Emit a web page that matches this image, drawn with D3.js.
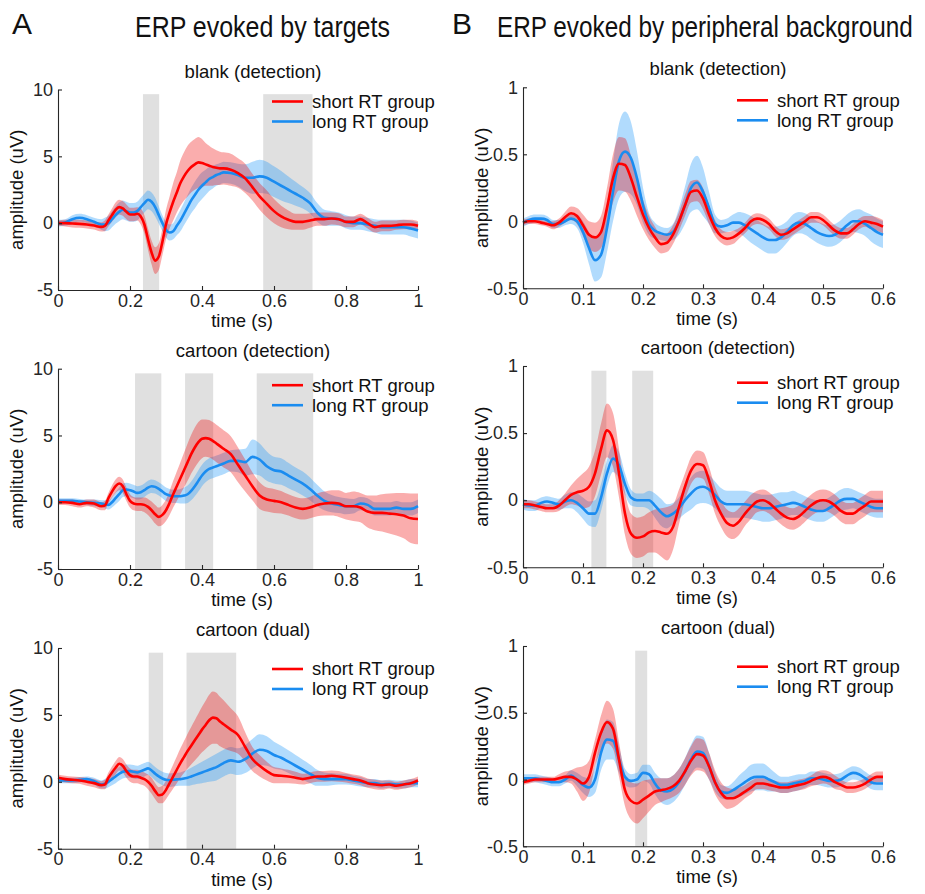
<!DOCTYPE html>
<html><head><meta charset="utf-8">
<script src="https://cdn.jsdelivr.net/npm/d3@7"></script>
<style>body{margin:0;background:#fff;} text{font-family:"Liberation Sans",Arial,Helvetica,sans-serif;}</style>
</head><body>
<script>
// ---------- DATA ----------
const panelTitles = ["blank (detection)","cartoon (detection)","cartoon (dual)"];
const groupLabels = ["short RT group","long RT group"];
const headings = ["A","ERP evoked by targets","B","ERP evoked by peripheral background"];
const xTicksA = [0,0.2,0.4,0.6,0.8,1], xLabelsA = ["0","0.2","0.4","0.6","0.8","1"];
const yTicksA = [-5,0,5,10], yLabelsA = ["-5","0","5","10"];
const xTicksB = [0,0.1,0.2,0.3,0.4,0.5,0.6], xLabelsB = ["0","0.1","0.2","0.3","0.4","0.5","0.6"];
const yTicksB = [-0.5,0,0.5,1], yLabelsB = ["-0.5","0","0.5","1"];

const tA = [0,0.02,0.04,0.06,0.08,0.1,0.12,0.13,0.14,0.15,0.16,0.17,0.18,0.19,0.2,0.21,0.22,0.23,0.24,0.25,0.26,0.27,0.28,0.29,0.3,0.31,0.32,0.33,0.34,0.35,0.36,0.37,0.38,0.39,0.4,0.41,0.42,0.43,0.44,0.45,0.46,0.48,0.5,0.52,0.54,0.56,0.58,0.6,0.62,0.64,0.66,0.68,0.7,0.72,0.74,0.76,0.78,0.8,0.82,0.84,0.86,0.88,0.9,0.92,0.94,0.96,0.98,1];
const tB = [0,0.01,0.02,0.03,0.04,0.05,0.06,0.07,0.08,0.09,0.1,0.11,0.12,0.13,0.14,0.15,0.16,0.17,0.18,0.19,0.2,0.21,0.22,0.23,0.24,0.25,0.26,0.27,0.28,0.29,0.3,0.31,0.32,0.33,0.34,0.35,0.36,0.37,0.38,0.39,0.4,0.41,0.42,0.43,0.44,0.45,0.46,0.47,0.48,0.49,0.5,0.51,0.52,0.53,0.54,0.55,0.56,0.57,0.58,0.59,0.6];

// A: ERP evoked by targets (uV)
const A1_short = [0,0,-0.03,-0.05,-0.1,-0.18,-0.28, -0.2,0.2,0.6,1.0,1.2,1.1,0.85,0.65,0.65,0.7, 0.5,-0.1,-1.2,-2.2,-2.8,-2.5,-1.4,-0.1,0.8,1.6, 2.3,3.0,3.5,3.9,4.2,4.4,4.55,4.5,4.4,4.3, 4.2,4.15,4.1,4.1, 4.0,3.75,3.35,2.7,2.0,1.45,0.9,0.5,0.25,0.1, 0.1,0.2,0.3,0.3,0.35,0.3,0.1,0.1,0.3,0.0, -0.3,-0.2,-0.2,-0.15,-0.1,-0.1,-0.2];
const A1_shortErr = [0.2,0.25,0.3,0.3,0.3,0.3,0.35, 0.4,0.45,0.5,0.55,0.55,0.55,0.55,0.5,0.5,0.5, 0.6,0.7,0.8,0.9,1.0,1.0,1.0,1.1,1.2,1.4, 1.5,1.7,1.8,1.9,1.9,1.9,1.9,1.8,1.6,1.5, 1.4,1.3,1.25,1.2, 1.2,1.1,1.1,1.0,1.0,1.0,0.9,0.8,0.7,0.6, 0.6,0.55,0.5,0.5,0.45,0.45,0.4,0.4,0.4,0.4, 0.4,0.4,0.4,0.35,0.35,0.35,0.35];
const A1_long = [0,0.05,0.3,0.4,0.3,0.1,-0.1, -0.1,0.0,0.3,0.6,0.85,1.0,0.9,0.8,0.8,0.9, 1.2,1.5,1.75,1.6,1.2,0.6,0.0,-0.5,-0.7,-0.6, -0.2,0.2,0.7,1.2,1.7,2.1,2.5,2.8,3.05,3.3, 3.45,3.6,3.7,3.8, 3.75,3.6,3.4,3.4,3.5,3.4,3.1,2.8,2.5,2.2, 1.9,1.5,0.8,0.4,0.35,0.3,0.1,0.0,0.0,-0.1, -0.2,-0.3,-0.3,-0.3,-0.3,-0.4,-0.55];
const A1_longErr = [0.25,0.25,0.3,0.3,0.3,0.3,0.4, 0.5,0.55,0.6,0.65,0.7,0.7,0.7,0.7,0.7,0.7, 0.7,0.7,0.7,0.7,0.7,0.65,0.6,0.6,0.6,0.6, 0.7,0.8,0.85,0.9,0.95,1.0,1.0,1.0,0.95,0.9, 0.85,0.8,0.8,0.8, 0.8,0.85,1.0,1.2,1.25,1.2,1.15,1.1,1.0,0.9, 0.8,0.75,0.7,0.6,0.55,0.5,0.5,0.5,0.5,0.5, 0.5,0.55,0.55,0.55,0.55,0.6,0.6];

const A2_short = [0,0,-0.05,-0.15,-0.05,-0.1,-0.3, -0.25,0.3,0.8,1.2,1.4,1.2,0.6,0.1,-0.1,-0.15, -0.15,-0.2,-0.35,-0.6,-0.9,-1.1,-0.95,-0.6,-0.05,0.6, 1.2,1.8,2.4,3.0,3.6,4.1,4.5,4.75,4.8,4.75, 4.6,4.4,4.2,4.0, 3.6,2.8,2.0,1.2,0.5,0.2,0.1,0.0,-0.2,-0.4, -0.5,-0.4,-0.2,-0.1,-0.05,-0.1,-0.3,-0.3,-0.4,-0.7, -0.8,-0.8,-0.85,-0.9,-1.0,-1.2,-1.25];
const A2_shortErr = [0.2,0.2,0.25,0.25,0.25,0.3,0.3, 0.35,0.4,0.45,0.5,0.5,0.5,0.5,0.5,0.5,0.5, 0.5,0.55,0.6,0.65,0.7,0.7,0.75,0.8,0.9,1.0, 1.1,1.2,1.3,1.4,1.45,1.5,1.5,1.45,1.4,1.4, 1.4,1.4,1.4,1.4, 1.35,1.3,1.2,1.05,1.0,0.9,0.9,0.85,0.8,0.8, 0.8,0.8,0.85,0.9,0.95,1.0,1.0,1.1,1.1,1.2, 1.3,1.4,1.5,1.6,1.7,1.85,1.9];
const A2_long = [0.1,0.1,0.1,0.05,0.0,-0.05,-0.1, -0.15,-0.2,0.0,0.3,0.6,0.9,0.95,0.9,0.8,0.7, 0.75,0.9,1.1,1.2,1.15,1.0,0.8,0.6,0.5,0.45, 0.45,0.45,0.5,0.6,0.85,1.2,1.6,2.0,2.3,2.5, 2.6,2.7,2.8,2.9, 3.1,3.1,3.0,3.4,3.2,2.7,2.4,2.3,2.0,1.7, 1.4,1.0,0.5,0.1,-0.1,-0.2,-0.3,-0.3,-0.1,-0.2, -0.5,-0.5,-0.5,-0.4,-0.5,-0.5,-0.3];
const A2_longErr = [0.2,0.2,0.2,0.2,0.2,0.25,0.25, 0.3,0.35,0.4,0.45,0.5,0.5,0.5,0.5,0.5,0.5, 0.5,0.5,0.5,0.5,0.5,0.5,0.5,0.5,0.5,0.5, 0.5,0.55,0.6,0.65,0.7,0.75,0.8,0.8,0.8,0.8, 0.8,0.8,0.8,0.8, 0.8,0.85,1.0,1.3,1.2,1.1,1.0,1.0,0.95,0.9, 0.9,0.85,0.8,0.7,0.65,0.6,0.6,0.55,0.5,0.5, 0.5,0.5,0.5,0.5,0.5,0.5,0.5];

const A3_short = [0.3,0.2,0.15,0.1,0.0,-0.1,-0.25, -0.2,0.3,0.7,1.05,1.35,1.2,0.8,0.5,0.4,0.4, 0.3,0.2,0.0,-0.3,-0.7,-1.0,-0.95,-0.6,-0.1,0.4, 0.9,1.4,1.85,2.3,2.7,3.1,3.5,3.9,4.25,4.6, 4.8,4.75,4.5,4.3, 3.9,3.5,2.6,1.7,1.2,0.8,0.5,0.45,0.4,0.3, 0.2,0.3,0.4,0.4,0.45,0.4,0.3,0.2,0.1,-0.1, -0.2,-0.25,-0.2,-0.3,-0.2,-0.1,0.1];
const A3_shortErr = [0.25,0.25,0.25,0.25,0.3,0.3,0.3, 0.35,0.4,0.45,0.5,0.5,0.5,0.5,0.5,0.5,0.5, 0.5,0.5,0.55,0.6,0.6,0.6,0.65,0.7,0.8,0.9, 1.0,1.1,1.2,1.3,1.4,1.5,1.6,1.7,1.8,1.9, 1.95,1.9,1.85,1.8, 1.6,1.4,1.1,0.9,0.8,0.7,0.6,0.55,0.5,0.45, 0.4,0.4,0.4,0.4,0.4,0.4,0.35,0.35,0.35,0.35, 0.35,0.35,0.3,0.3,0.3,0.3,0.3];
const A3_long = [0.1,0.1,0.1,0.15,0.2,0.05,-0.2, -0.15,0.0,0.2,0.4,0.6,0.75,0.8,0.8,0.75,0.7, 0.8,0.9,1.0,0.85,0.6,0.4,0.25,0.15,0.12,0.15, 0.18,0.2,0.25,0.3,0.4,0.5,0.6,0.7,0.8,0.9, 1.0,1.1,1.25,1.4, 1.6,1.5,1.7,2.1,2.4,2.3,2.0,1.8,1.5,1.2, 0.9,0.6,0.3,0.2,0.2,0.2,0.2,0.1,0.0,-0.1, -0.1,-0.2,-0.15,-0.2,-0.2,-0.1,-0.1];
const A3_longErr = [0.2,0.2,0.2,0.2,0.2,0.25,0.3, 0.35,0.4,0.45,0.5,0.5,0.5,0.5,0.5,0.5,0.5, 0.5,0.5,0.5,0.5,0.5,0.5,0.5,0.5,0.5,0.5, 0.5,0.5,0.55,0.6,0.65,0.7,0.75,0.8,0.85,0.9, 0.95,1.0,1.0,1.0, 1.0,1.0,1.05,1.1,1.15,1.1,1.0,0.9,0.85,0.8, 0.75,0.7,0.6,0.5,0.45,0.4,0.4,0.35,0.35,0.3, 0.3,0.3,0.3,0.3,0.3,0.3,0.3];

// B: ERP evoked by peripheral background (uV)
const B1_short = [-0.01,0.0,0.0,-0.01,-0.02,-0.03,-0.01,0.03,0.06,0.04, -0.03,-0.1,-0.12,-0.08,0.1,0.32,0.43,0.42,0.32,0.18, 0.05,-0.05,-0.12,-0.17,-0.16,-0.1,0.0,0.12,0.22,0.23, 0.17,0.05,-0.05,-0.11,-0.13,-0.12,-0.09,-0.05,0.0,0.02, 0.01,-0.02,-0.07,-0.1,-0.09,-0.06,-0.03,0.0,0.03,0.03, 0.01,-0.03,-0.07,-0.09,-0.09,-0.06,-0.02,0.0,-0.01,-0.02, -0.04];
const B1_shortErr = [0.02,0.02,0.02,0.02,0.02,0.03,0.03,0.04,0.05,0.06, 0.08,0.1,0.11,0.12,0.15,0.18,0.2,0.2,0.17,0.14, 0.11,0.09,0.08,0.07,0.07,0.07,0.07,0.08,0.08,0.08, 0.08,0.07,0.06,0.05,0.05,0.05,0.04,0.04,0.04,0.04, 0.04,0.04,0.04,0.04,0.04,0.04,0.04,0.04,0.04,0.04, 0.04,0.04,0.04,0.04,0.04,0.04,0.04,0.04,0.05,0.05, 0.05];
const B1_long = [-0.01,0.01,0.02,0.02,0.01,-0.02,-0.02,0.0,0.02,0.0, -0.08,-0.2,-0.29,-0.25,-0.05,0.22,0.45,0.52,0.47,0.32, 0.12,-0.02,-0.07,-0.09,-0.1,-0.08,0.0,0.12,0.25,0.29, 0.22,0.1,-0.02,-0.04,-0.03,-0.01,-0.01,-0.03,-0.06,-0.09, -0.12,-0.14,-0.14,-0.12,-0.08,-0.03,-0.01,-0.02,-0.05,-0.08, -0.1,-0.11,-0.1,-0.07,-0.03,0.0,0.0,-0.02,-0.05,-0.08, -0.1];
const B1_longErr = [0.03,0.03,0.03,0.03,0.03,0.03,0.03,0.03,0.04,0.05, 0.08,0.12,0.16,0.17,0.18,0.22,0.28,0.3,0.27,0.2, 0.13,0.08,0.06,0.05,0.05,0.06,0.1,0.14,0.18,0.2, 0.18,0.12,0.07,0.05,0.05,0.06,0.08,0.09,0.1,0.1, 0.1,0.1,0.1,0.09,0.08,0.08,0.08,0.08,0.08,0.08, 0.08,0.08,0.08,0.08,0.08,0.08,0.09,0.09,0.1,0.1, 0.1];

const B2_short = [-0.03,-0.03,-0.04,-0.05,-0.06,-0.06,-0.04,0.0,0.04,0.06, 0.07,0.1,0.2,0.38,0.52,0.45,0.2,-0.1,-0.25,-0.28, -0.27,-0.24,-0.23,-0.24,-0.25,-0.2,-0.05,0.1,0.22,0.27, 0.26,0.15,0.0,-0.1,-0.17,-0.19,-0.16,-0.1,-0.05,-0.01, 0.0,-0.02,-0.06,-0.1,-0.13,-0.14,-0.12,-0.08,-0.04,-0.01, 0.0,-0.01,-0.04,-0.08,-0.1,-0.1,-0.07,-0.04,-0.01,-0.01, -0.01];
const B2_shortErr = [0.03,0.03,0.03,0.03,0.03,0.03,0.04,0.05,0.07,0.1, 0.13,0.15,0.17,0.19,0.2,0.2,0.18,0.16,0.15,0.15, 0.15,0.15,0.16,0.18,0.2,0.17,0.13,0.1,0.1,0.1, 0.1,0.1,0.1,0.1,0.1,0.1,0.1,0.09,0.09,0.08, 0.08,0.08,0.08,0.08,0.08,0.08,0.08,0.08,0.08,0.08, 0.08,0.08,0.08,0.08,0.08,0.08,0.08,0.08,0.08,0.08, 0.08];
const B2_long = [-0.03,-0.04,-0.04,-0.02,-0.01,-0.02,-0.03,-0.01,0.0,-0.02, -0.06,-0.1,-0.1,0.02,0.2,0.31,0.26,0.12,0.02,0.0, 0.0,0.0,-0.04,-0.09,-0.12,-0.1,-0.06,0.0,0.05,0.09, 0.1,0.08,0.04,-0.01,-0.03,-0.03,-0.03,-0.03,-0.04,-0.05, -0.06,-0.06,-0.05,-0.04,-0.03,-0.02,-0.03,-0.05,-0.07,-0.08, -0.08,-0.06,-0.03,0.0,0.01,0.01,-0.01,-0.03,-0.05,-0.06, -0.06];
const B2_longErr = [0.04,0.04,0.04,0.04,0.04,0.04,0.04,0.05,0.06,0.07, 0.08,0.09,0.1,0.1,0.1,0.1,0.1,0.08,0.06,0.05, 0.05,0.07,0.09,0.1,0.09,0.08,0.08,0.1,0.12,0.12, 0.12,0.11,0.1,0.1,0.1,0.1,0.1,0.1,0.1,0.1, 0.1,0.1,0.1,0.1,0.09,0.09,0.08,0.08,0.08,0.08, 0.08,0.08,0.08,0.08,0.08,0.07,0.07,0.07,0.07,0.07, 0.07];

const B3_short = [-0.02,-0.01,0.0,0.0,0.0,0.0,0.01,0.02,0.02,0.0, -0.03,0.02,0.2,0.35,0.43,0.38,0.15,-0.08,-0.16,-0.18, -0.15,-0.12,-0.09,-0.08,-0.07,-0.05,-0.01,0.06,0.14,0.19, 0.18,0.1,-0.02,-0.1,-0.14,-0.14,-0.12,-0.09,-0.06,-0.03, -0.03,-0.04,-0.05,-0.06,-0.06,-0.05,-0.04,-0.03,-0.01,0.01, 0.02,0.01,-0.02,-0.04,-0.06,-0.06,-0.05,-0.03,0.0,0.02, 0.02];
const B3_shortErr = [0.02,0.02,0.02,0.02,0.02,0.02,0.03,0.04,0.05,0.09, 0.13,0.12,0.1,0.13,0.16,0.15,0.13,0.12,0.14,0.15, 0.14,0.12,0.1,0.09,0.08,0.08,0.09,0.1,0.11,0.12, 0.12,0.1,0.09,0.08,0.08,0.07,0.06,0.05,0.05,0.04, 0.04,0.04,0.04,0.04,0.04,0.04,0.04,0.04,0.04,0.05, 0.05,0.05,0.05,0.04,0.04,0.04,0.04,0.04,0.04,0.04, 0.04];
const B3_long = [0.01,0.01,0.01,0.0,-0.01,-0.02,-0.02,0.0,0.03,0.0, -0.04,-0.06,0.0,0.2,0.3,0.29,0.15,0.02,-0.01,0.0, 0.05,0.04,-0.03,-0.08,-0.09,-0.07,-0.02,0.06,0.15,0.21, 0.2,0.1,-0.02,-0.09,-0.1,-0.08,-0.05,-0.02,0.01,0.02, 0.02,0.0,-0.02,-0.04,-0.04,-0.03,-0.02,-0.01,0.01,0.01, 0.0,-0.01,-0.01,0.0,0.03,0.05,0.04,0.01,-0.02,-0.03, -0.03];
const B3_longErr = [0.03,0.03,0.03,0.03,0.03,0.03,0.03,0.03,0.04,0.05, 0.06,0.07,0.1,0.13,0.15,0.14,0.1,0.06,0.05,0.05, 0.06,0.07,0.08,0.09,0.1,0.1,0.1,0.1,0.11,0.12, 0.12,0.1,0.07,0.05,0.05,0.06,0.08,0.09,0.1,0.1, 0.1,0.09,0.07,0.06,0.06,0.06,0.06,0.05,0.05,0.05, 0.05,0.05,0.05,0.05,0.05,0.05,0.05,0.05,0.05,0.05, 0.05];

// significance windows (s)
const A1_sig = [[0.236,0.281],[0.570,0.707]];
const A2_sig = [[0.214,0.287],[0.353,0.431],[0.552,0.709]];
const A3_sig = [[0.252,0.292],[0.357,0.495]];
const B1_sig = [];
const B2_sig = [[0.114,0.139],[0.182,0.217]];
const B3_sig = [[0.187,0.207]];

// ---------- LAYOUT ----------
const W = 925, H = 894;
const RED = "#ff0000", BLUE = "#1a8cf0";
const RED_BAND = "rgba(240,0,0,0.32)", BLUE_BAND = "rgba(40,155,250,0.36)";
const SHADE = "#e0e0e0", INK = "#262626";

const svg = d3.select("body").append("svg").attr("width", W).attr("height", H);

const colA = {x0: 58, x1: 418, t: tA, xDom: [0,1], yDom: [-5,10], xT: xTicksA, xL: xLabelsA, yT: yTicksA, yL: yLabelsA, shadeTop: 9.65};
const colB = {x0: 523, x1: 883, t: tB, xDom: [0,0.6], yDom: [-0.5,1], xT: xTicksB, xL: xLabelsB, yT: yTicksB, yL: yLabelsB, shadeTop: 0.965};

const panels = [
  {col: colA, top: 89.5, bottom: 290, leg: 12, title: panelTitles[0], s: A1_short, se: A1_shortErr, l: A1_long, le: A1_longErr, sig: A1_sig},
  {col: colA, top: 368.7, bottom: 569, leg: 16.5, title: panelTitles[1], s: A2_short, se: A2_shortErr, l: A2_long, le: A2_longErr, sig: A2_sig},
  {col: colA, top: 648, bottom: 848.7, leg: 21, title: panelTitles[2], s: A3_short, se: A3_shortErr, l: A3_long, le: A3_longErr, sig: A3_sig},
  {col: colB, top: 87.3, bottom: 288.3, leg: 13, title: panelTitles[0], s: B1_short, se: B1_shortErr, l: B1_long, le: B1_longErr, sig: B1_sig},
  {col: colB, top: 366, bottom: 567.3, leg: 16.7, title: panelTitles[1], s: B2_short, se: B2_shortErr, l: B2_long, le: B2_longErr, sig: B2_sig},
  {col: colB, top: 646, bottom: 846.3, leg: 20.7, title: panelTitles[2], s: B3_short, se: B3_shortErr, l: B3_long, le: B3_longErr, sig: B3_sig}
];

function drawPanel(p) {
  const c = p.col;
  const x = d3.scaleLinear().domain(c.xDom).range([c.x0, c.x1]);
  const y = d3.scaleLinear().domain(c.yDom).range([p.bottom, p.top]);
  const g = svg.append("g");

  g.selectAll("rect.sig").data(p.sig).join("rect")
    .attr("x", d => x(d[0])).attr("width", d => x(d[1]) - x(d[0]))
    .attr("y", y(c.shadeTop)).attr("height", y(c.yDom[0]) - y(c.shadeTop))
    .attr("fill", SHADE);

  const mk = (m, e) => c.t.map((t, i) => ({t, m: m[i], e: e[i]}));
  const dS = mk(p.s, p.se), dL = mk(p.l, p.le);
  const area = d3.area().x(d => x(d.t)).y0(d => y(d.m - d.e)).y1(d => y(d.m + d.e)).curve(d3.curveMonotoneX);
  const line = d3.line().x(d => x(d.t)).y(d => y(d.m)).curve(d3.curveMonotoneX);

  g.append("path").attr("d", area(dL)).attr("fill", BLUE_BAND);
  g.append("path").attr("d", area(dS)).attr("fill", RED_BAND);
  g.append("path").attr("d", line(dL)).attr("fill", "none").attr("stroke", BLUE).attr("stroke-width", 2.6).attr("stroke-linejoin", "round");
  g.append("path").attr("d", line(dS)).attr("fill", "none").attr("stroke", RED).attr("stroke-width", 2.6).attr("stroke-linejoin", "round");

  const ax = g.append("g").attr("transform", `translate(0,${p.bottom})`)
    .call(d3.axisBottom(x).tickValues(c.xT).tickFormat((d, i) => c.xL[i]).tickSizeInner(-4).tickSizeOuter(0).tickPadding(4));
  const ay = g.append("g").attr("transform", `translate(${c.x0},0)`)
    .call(d3.axisLeft(y).tickValues(c.yT).tickFormat((d, i) => c.yL[i]).tickSizeInner(-4).tickSizeOuter(0).tickPadding(5));
  [ax, ay].forEach(a => {
    a.select(".domain").attr("stroke", INK).attr("stroke-width", 1.1);
    a.selectAll(".tick line").attr("stroke", INK).attr("stroke-width", 1.1);
    a.selectAll(".tick text").attr("fill", INK).style("font-size", "18px").style("font-family", '"Liberation Sans",Arial,sans-serif');
  });

  const cx = (c.x0 + c.x1) / 2;
  g.append("text").attr("x", cx + 15).attr("y", p.top - 12).attr("text-anchor", "middle")
    .attr("fill", "#111").style("font-size", "18.5px").text(p.title);
  g.append("text").attr("x", cx + 4).attr("y", p.bottom + 37).attr("text-anchor", "middle")
    .attr("fill", "#111").style("font-size", "18.5px").text("time (s)");
  g.append("text").attr("transform", `translate(${c.x0 - 35},${(p.top + p.bottom) / 2}) rotate(-90)`)
    .attr("text-anchor", "middle").attr("fill", "#111").style("font-size", "18.5px").text("amplitude (uV)");

  const lg = g.append("g");
  [[RED, groupLabels[0]], [BLUE, groupLabels[1]]].forEach(([col, lab], k) => {
    const ly = p.top + p.leg + k * 20;
    lg.append("line").attr("x1", c.x1 - 146).attr("x2", c.x1 - 115).attr("y1", ly).attr("y2", ly)
      .attr("stroke", col).attr("stroke-width", 2.6);
    lg.append("text").attr("x", c.x1 - 106).attr("y", ly).attr("dy", "0.35em")
      .attr("fill", "#111").style("font-size", "18.5px").text(lab);
  });
}
panels.forEach(drawPanel);

// figure headings: condensed look obtained by measuring and scaling horizontally
const narrow = '"Liberation Sans Narrow","Arial Narrow","Liberation Sans",Arial,sans-serif';
const headSpec = [
  {txt: headings[0], x: 12, y: 34, w: null},
  {txt: headings[1], x: 135, y: 37, w: 255},
  {txt: headings[2], x: 452, y: 34, w: null},
  {txt: headings[3], x: 497, y: 37, w: 416}
];
headSpec.forEach(h => {
  const t = svg.append("text").style("font-family", narrow).style("font-size", "30px").attr("fill", "#111").text(h.txt);
  let sx = 1;
  if (h.w) { const nat = t.node().getComputedTextLength(); if (nat > 0) sx = h.w / nat; }
  t.attr("transform", `translate(${h.x},${h.y}) scale(${sx},1)`);
});
</script>
</body></html>
